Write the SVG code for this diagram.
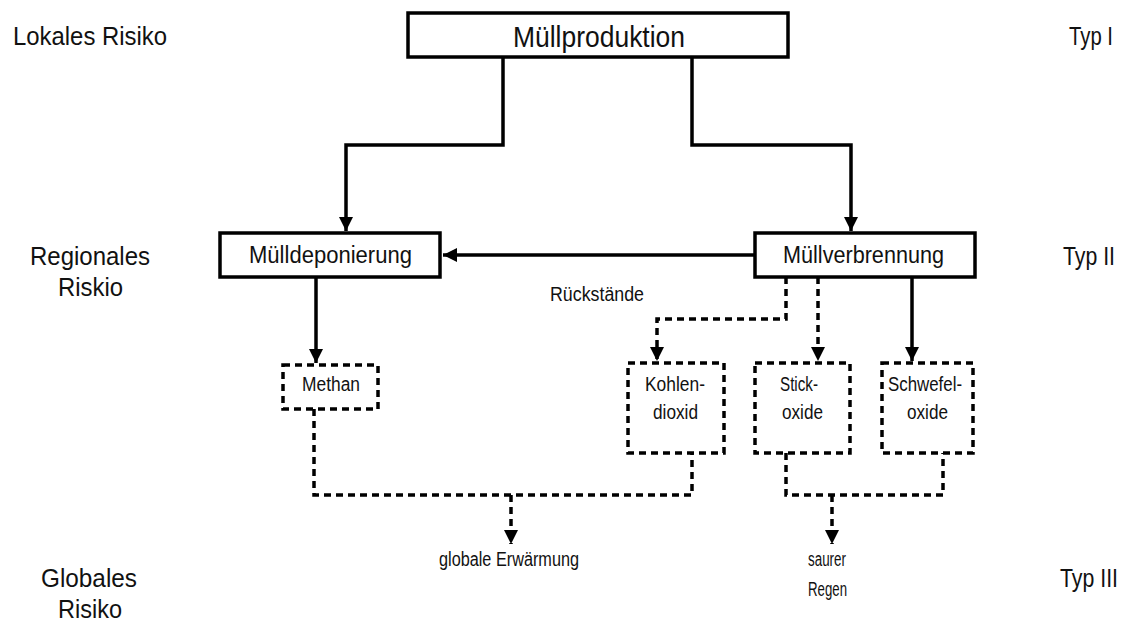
<svg xmlns="http://www.w3.org/2000/svg" width="1146" height="624" viewBox="0 0 1146 624">
<style>
text{font-family:"Liberation Sans",Arial,sans-serif;fill:#111;}
.box{fill:#fff;stroke:#000;stroke-width:3.5;}
.dbox{fill:#fff;stroke:#000;stroke-width:3.5;stroke-dasharray:7 5;}
.ln{fill:none;stroke:#000;stroke-width:3.5;}
.dl{fill:none;stroke:#000;stroke-width:3.5;stroke-dasharray:7 5;}
.big{font-size:30px;}
.mid{font-size:23px;}
.sm{font-size:20px;}
.side{font-size:26px;}
</style>
<defs>
<marker id="ah" viewBox="0 0 10 10" refX="10" refY="5" markerWidth="4" markerHeight="4" orient="auto" markerUnits="strokeWidth">
<path d="M0,0 L10,5 L0,10 z" fill="#000"/>
</marker>
</defs>
<rect width="1146" height="624" fill="#fff"/>
<g id="labels">
<text class="side" x="13" y="45" textLength="154" lengthAdjust="spacingAndGlyphs">Lokales Risiko</text>
<text class="side" x="30" y="265" textLength="120" lengthAdjust="spacingAndGlyphs">Regionales</text>
<text class="side" x="58" y="296" textLength="65" lengthAdjust="spacingAndGlyphs">Riskio</text>
<text class="side" x="41" y="587" textLength="96" lengthAdjust="spacingAndGlyphs">Globales</text>
<text class="side" x="58" y="618" textLength="64" lengthAdjust="spacingAndGlyphs">Risiko</text>
<text class="side" x="1069" y="45" textLength="44" lengthAdjust="spacingAndGlyphs">Typ I</text>
<text class="side" x="1063" y="265" textLength="52" lengthAdjust="spacingAndGlyphs">Typ II</text>
<text class="side" x="1060" y="587" textLength="58" lengthAdjust="spacingAndGlyphs">Typ III</text>
</g>
<g id="connectors">
<path class="ln" d="M503,57 V145 H346 V231" marker-end="url(#ah)"/>
<path class="ln" d="M692,57 V145 H851 V231" marker-end="url(#ah)"/>
<path class="ln" d="M755,255 H443" marker-end="url(#ah)"/>
<path class="ln" d="M316,277 V363" marker-end="url(#ah)"/>
<path class="dl" d="M786,277 V319 H657 V361" marker-end="url(#ah)"/>
<path class="dl" d="M818,277 V361" marker-end="url(#ah)"/>
<path class="ln" d="M912,277 V361" marker-end="url(#ah)"/>
<path class="dl" d="M314,409 V495 H692 V453"/>
<path class="dl" d="M511,495 V544" marker-end="url(#ah)"/>
<path class="dl" d="M786,453 V495 H943 V453"/>
<path class="dl" d="M832,495 V544" marker-end="url(#ah)"/>
<text class="sm" x="550" y="301" textLength="94" lengthAdjust="spacingAndGlyphs">Rückstände</text>
</g>
<g id="muellproduktion">
<rect class="box" x="408" y="13" width="380" height="44"/>
<text class="big" x="513" y="47" textLength="172" lengthAdjust="spacingAndGlyphs">Müllproduktion</text>
</g>
<g id="muelldeponierung">
<rect class="box" x="220" y="233" width="220" height="44"/>
<text class="mid" x="249" y="263" textLength="163" lengthAdjust="spacingAndGlyphs">Mülldeponierung</text>
</g>
<g id="muellverbrennung">
<rect class="box" x="755" y="233" width="220" height="44"/>
<text class="mid" x="783" y="263" textLength="161" lengthAdjust="spacingAndGlyphs">Müllverbrennung</text>
</g>
<g id="methan">
<rect class="dbox" x="283" y="365" width="95" height="44"/>
<text class="sm" x="302" y="391" textLength="58" lengthAdjust="spacingAndGlyphs">Methan</text>
</g>
<g id="kohlendioxid">
<rect class="dbox" x="628" y="363" width="96" height="90"/>
<text class="sm" x="645" y="391" textLength="60" lengthAdjust="spacingAndGlyphs">Kohlen-</text>
<text class="sm" x="653" y="419" textLength="45" lengthAdjust="spacingAndGlyphs">dioxid</text>
</g>
<g id="stickoxide">
<rect class="dbox" x="755" y="363" width="95" height="90"/>
<text class="sm" x="780" y="391" textLength="38" lengthAdjust="spacingAndGlyphs">Stick-</text>
<text class="sm" x="782" y="419" textLength="41" lengthAdjust="spacingAndGlyphs">oxide</text>
</g>
<g id="schwefeloxide">
<rect class="dbox" x="882" y="363" width="91" height="90"/>
<text class="sm" x="888" y="391" textLength="74" lengthAdjust="spacingAndGlyphs">Schwefel-</text>
<text class="sm" x="907" y="419" textLength="41" lengthAdjust="spacingAndGlyphs">oxide</text>
</g>
<g id="globale">
<text class="sm" x="439" y="566" textLength="140" lengthAdjust="spacingAndGlyphs">globale Erwärmung</text>
</g>
<g id="saurer">
<text class="sm" x="808" y="566" textLength="38" lengthAdjust="spacingAndGlyphs">saurer</text>
<text class="sm" x="808" y="596" textLength="39" lengthAdjust="spacingAndGlyphs">Regen</text>
</g>
</svg>
